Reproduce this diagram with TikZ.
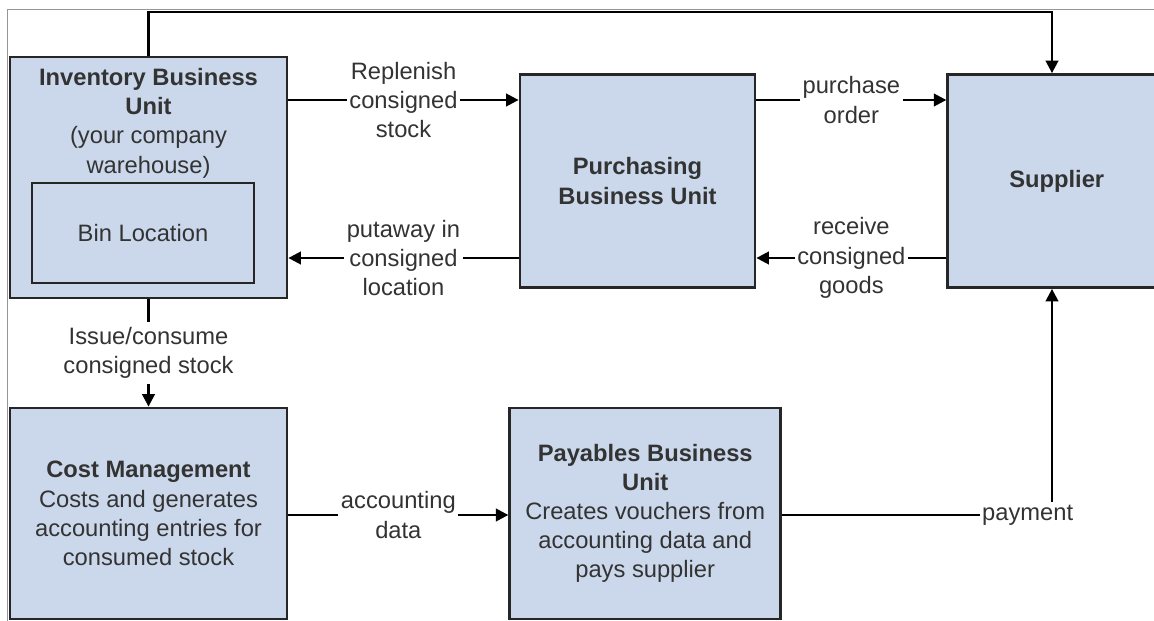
\documentclass[tikz,border=0pt]{standalone}
\usepackage{fontspec}
\setmainfont{Liberation Sans}
\usetikzlibrary{positioning,arrows.meta}
\definecolor{unitfill}{RGB}{203,216,235}
\definecolor{unitline}{RGB}{38,38,38}
\definecolor{txtgrey}{RGB}{51,51,51}
\definecolor{framegrey}{RGB}{150,150,150}
\tikzset{
  fig/.style={font=\fontsize{13.5}{16.6}\selectfont,text=txtgrey},
  box/.style={draw=unitline,line width=1.6pt,fill=unitfill,align=center,inner sep=2pt},
  ln/.style={-{Triangle[length=2.5mm,width=2.5mm]},line width=1.4pt},
  lbl/.style={fill=white,align=center,inner sep=1.5pt},
}
\begin{document}
\begin{tikzpicture}[fig,x=0.02cm,y=-0.02cm]
\useasboundingbox (0,0) rectangle (1154,621);
\draw[framegrey,line width=0.5pt] (1154,9) -- (7,9) -- (7,621);

\coordinate (topy) at (0,12);
\coordinate (rowa) at (0,100);
\coordinate (rowb) at (0,258);
\coordinate (rowc) at (0,515);
\coordinate (colx) at (1052,0);

\node[box,minimum width=55.4mm,minimum height=48.2mm] (inv) at (148.5,177.5) {};
\node[anchor=north,align=center,yshift=-1.3mm] (invtxt) at (inv.north)
     {\textbf{Inventory Business}\\\textbf{Unit}\\(your company\\warehouse)};
\node[box,minimum width=44.4mm,minimum height=20mm] (bin) at (143,233) {Bin Location};
\node[box,minimum width=47mm,minimum height=42.6mm] (pur) at (637.5,181) {\textbf{Purchasing}\\\textbf{Business Unit}};
\node[box,minimum width=43.6mm,minimum height=42.6mm,right=38mm of pur] (sup) {\textbf{Supplier}};
\node[box,minimum width=55.4mm,minimum height=42.2mm] (cost) at (148.5,513.5)
     {\textbf{Cost Management}\\Costs and generates\\accounting entries for\\consumed stock};
\node[box,minimum width=54.2mm,minimum height=42.2mm,right=44mm of cost] (pay)
     {\textbf{Payables Business}\\\textbf{Unit}\\Creates vouchers from\\accounting data and\\pays supplier};

\draw[ln] (inv.east|-rowa) -- node[lbl]{Replenish\\consigned\\stock} (pur.west|-rowa);
\draw[ln] (pur.east|-rowa) -- node[lbl]{purchase\\order} (sup.west|-rowa);
\draw[ln] (sup.west|-rowb) -- node[lbl]{receive\\consigned\\goods} (pur.east|-rowb);
\draw[ln] (pur.west|-rowb) -- node[lbl]{putaway in\\consigned\\location} (inv.east|-rowb);
\draw[ln] (inv.south) -- node[lbl,inner ysep=3pt]{Issue/consume\\consigned stock} (cost.north);
\draw[ln] (cost.east|-rowc) -- node[lbl]{accounting\\data} (pay.west|-rowc);
\draw[ln] (pay.east|-rowc) -- node[lbl,pos=0.91]{payment} (colx|-rowc) -- (colx|-sup.south);
\draw[ln] (inv.north) |- (colx|-topy) -- (colx|-sup.north);

\end{tikzpicture}
\end{document}
